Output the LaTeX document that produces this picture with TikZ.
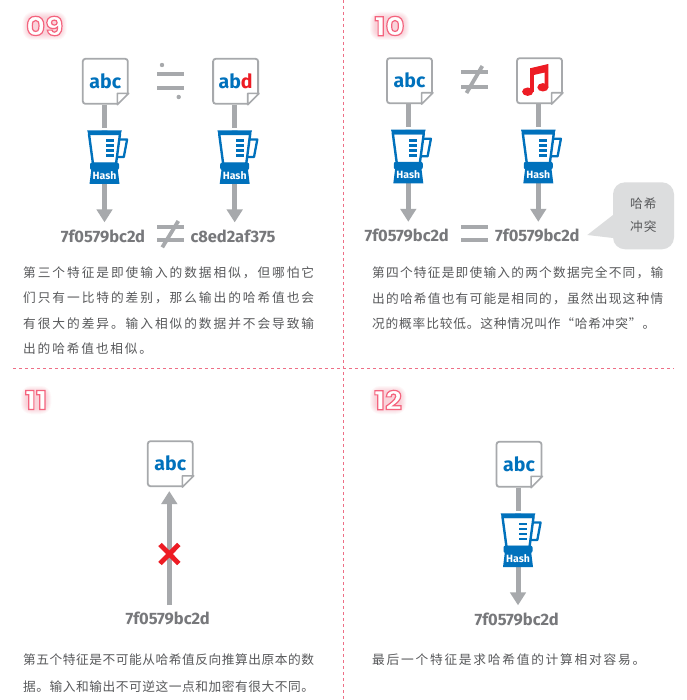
\documentclass[tikz,border=0pt]{standalone}
\usepackage{fontspec}
\setmainfont{Fira Sans}
\newfontfamily\cjkfont{Noto Sans CJK SC}
\newfontfamily\valfont{Fira Sans}[UprightFont=*-Bold]
\newfontfamily\numfont{Poppins}[UprightFont=*-Bold,FakeStretch=1.13]
\usetikzlibrary{arrows.meta}
\definecolor{hashblue}{HTML}{0071BC}
\definecolor{flowgray}{HTML}{A7A9AC}
\definecolor{valgray}{HTML}{77787B}
\definecolor{bodygray}{HTML}{58595B}
\definecolor{alertred}{HTML}{ED1C24}
\definecolor{rulepink}{HTML}{EE6F86}
\definecolor{numpink}{HTML}{F4647E}
\definecolor{bubblegray}{HTML}{DCDDDE}
% one line of body text: the characters are spread evenly over the given width
\makeatletter
\newcommand{\bodyline}[2]{\hbox to #1pt{\cjkfont\fontsize{12.7pt}{14pt}\selectfont
  \@tfor\bodychar:=#2\do{\bodychar\hfil}\unskip}}
\makeatother
\tikzset{
  x=1pt,y=-1pt,
  docbox/.style={draw=flowgray,line width=1.8pt,fill=white,rounded corners=2.6pt,
    minimum width=45pt,minimum height=45pt,inner sep=0pt,
    font=\valfont\fontsize{19.5pt}{22pt}\selectfont,text=hashblue},
  valnode/.style={inner sep=0pt,text=valgray,font=\valfont\fontsize{16.5pt}{18pt}\selectfont},
  bodynode/.style={inner sep=0pt,anchor=west,text=bodygray},
  flow/.style={draw=flowgray,line width=5pt},
  flowarrow/.style={flow,-{Triangle[length=13pt,width=15.5pt]},shorten >=7pt},
  relbar/.style={draw=flowgray,line width=4.2pt},
  rule/.style={draw=rulepink,line width=.9pt,dash pattern=on 3pt off 3pt},
  pics/fold/.style={code={
    \fill[white] (-11.8,0.9) -- (0.9,0.9) -- (0.9,-11.8) -- cycle;
    \draw[flowgray,line width=1.6pt,line join=round,fill=white] (-11.3,0) -- (0,-11.3) -- (-11.3,-11.3) -- cycle;
  }},
  pics/blender/.style={code={
    % jar outline and handle
    \draw[hashblue,line width=2.4pt,fill=white,line join=round] (-15.5,6) -- (-11.5,36) -- (11.5,36) -- (15.5,6) -- cycle;
    \draw[hashblue,line width=2.3pt,line join=round] (14,11.5) -- (22.6,11.5) -- (19.3,29) -- (12,29);
    % lid with knob
    \fill[hashblue] (-3,2.6) arc[start angle=180,end angle=0,radius=3] -- cycle;
    \fill[hashblue] (-17.3,2.4) -- (17.3,2.4) -- (16,7) -- (-16,7) -- cycle;
    % measuring marks
    \foreach \yy in {11.5,16.5,21.5,26.5}
      \fill[hashblue] (1,\yy) rectangle (9,\yy+2.8);
    % collar and base
    \fill[hashblue,rounded corners=2pt] (-14.5,34.5) rectangle (14.5,42);
    \fill[hashblue] (-13,40) -- (13,40) -- (15,56) -- (-15,56) -- cycle;
    \node[inner sep=0pt,text=white,font=\valfont\fontsize{10.5pt}{11pt}\selectfont] at (0,47.5) {Hash};
  }}
}
% section numeral: soft halo of stacked rounded plates, then white text with a pink outline
\newcommand{\secnum}[4]{%
  \foreach \glowgrow in {5,4,3,2,1,0}{
    \fill[numpink,opacity=.05,rounded corners=\glowgrow pt+5pt]
      (#1-#3/2-\glowgrow,#2-9-\glowgrow) rectangle (#1+#3/2+\glowgrow,#2+9+\glowgrow);
  }
  \node[inner sep=0pt,text=white] at (#1,#2) {\fontsize{26pt}{28pt}\numfont
    \special{pdf:code q 2 Tr 1.2 w 0.957 0.392 0.494 RG}#4\special{pdf:code Q}};
}
\begin{document}
\begin{tikzpicture}
\useasboundingbox (0,0) rectangle (686,700);
\fill[white] (0,0) rectangle (686,700);

% panel separators
\coordinate (ruleN) at (343,0);
\coordinate (ruleS) at (343,700);
\coordinate (ruleW) at (13,368);
\coordinate (ruleE) at (674,368);
\draw[rule] (ruleN) -- (ruleS);
\draw[rule] (ruleW) -- (ruleE);

% --- 09 ---
\secnum{44.7}{26}{34}{09}
\node[docbox] (a1) at (105.3,81.3) {abc};
\node[docbox] (a2) at (235.6,81.3) {\textcolor{hashblue}{ab}\textcolor{alertred}{d}};
\pic at (a1.south east) {fold};
\pic at (a2.south east) {fold};
\coordinate (ah1) at (104.5,128);
\coordinate (ah2) at (234.7,128);
\coordinate (ao1) at (104.5,184);
\coordinate (ao2) at (234.7,184);
\node[valnode] (av1) at (103,236) {7f0579bc2d};
\node[valnode] (av2) at (233,236) {c8ed2af375};
\draw[flow] (ah1|-a1.south) -- (ah1);
\draw[flow] (ah2|-a2.south) -- (ah2);
\draw[flowarrow] (ao1) -- (ao1|-av1.north);
\draw[flowarrow] (ao2) -- (ao2|-av2.north);
\pic at (ah1) {blender};
\pic at (ah2) {blender};
\draw[relbar] (157,74) -- (184,74) (157,87.7) -- (184,87.7);
\fill[flowgray] (162,65) circle[radius=2.2] (178.7,97) circle[radius=2.2];
\draw[relbar] (157,226.7) -- (184,226.7) (157,240) -- (184,240);
\draw[draw=flowgray,line width=3.8pt] (178.3,221) -- (162.3,247.3);
\node[bodynode] (at1) at (23,273) {\bodyline{291}{第三个特征是即使输入的数据相似，但哪怕它}};
\node[bodynode] (at2) at (23,298.3) {\bodyline{291}{们只有一比特的差别，那么输出的哈希值也会}};
\node[bodynode] (at3) at (23,323.3) {\bodyline{291}{有很大的差异。输入相似的数据并不会导致输}};
\node[bodynode] (at4) at (23,348.3) {\bodyline{129}{出的哈希值也相似。}};

% --- 10 ---
\secnum{389.5}{26}{29}{10}
\node[docbox] (b1) at (409.5,80.7) {abc};
\node[docbox] (b2) at (539.5,80.7) {};
\pic at (b1.south east) {fold};
\pic at (b2.south east) {fold};
% beamed notes
\fill[alertred] (527.7,91.7) ellipse[x radius=5.6,y radius=4.2]
  (542.9,87.3) ellipse[x radius=5.6,y radius=4.2];
\fill[alertred] (530,92) -- (530,68.3) -- (548.3,64) -- (548.3,87.3) -- (544.6,87.3)
  -- (544.6,72.5) -- (533.8,75) -- (533.8,92) -- cycle;
\coordinate (bh1) at (408.3,127.3);
\coordinate (bh2) at (538.3,127.3);
\coordinate (bo1) at (408.3,183);
\coordinate (bo2) at (538.3,183);
\node[valnode] (bv1) at (406.7,235.5) {7f0579bc2d};
\node[valnode] (bv2) at (537.3,235.5) {7f0579bc2d};
\draw[flow] (bh1|-b1.south) -- (bh1);
\draw[flow] (bh2|-b2.south) -- (bh2);
\draw[flowarrow] (bo1) -- (bo1|-bv1.north);
\draw[flowarrow] (bo2) -- (bo2|-bv2.north);
\pic at (bh1) {blender};
\pic at (bh2) {blender};
\draw[relbar] (461,72) -- (487.7,72) (461,86.7) -- (487.7,86.7);
\draw[draw=flowgray,line width=3.8pt] (482.3,66) -- (466.5,93);
\draw[relbar] (461,227) -- (487.7,227) (461,240) -- (487.7,240);
% speech bubble pointing at the second value
\fill[bubblegray] (613,215) -- (613,194.3) arc[start angle=180,end angle=270,radius=12] -- (662,182.3)
  arc[start angle=270,end angle=360,radius=12] -- (674,237.3) arc[start angle=0,end angle=90,radius=12]
  -- (625,249.3) arc[start angle=90,end angle=180,radius=12] -- (613,238) -- (587.3,235) -- cycle;
\node[bodynode,anchor=center] (bb1) at (643.3,204) {\bodyline{26.6}{哈希}};
\node[bodynode,anchor=center] (bb2) at (643.3,227) {\bodyline{26.6}{冲突}};
\node[bodynode] (bt1) at (372,273) {\bodyline{291}{第四个特征是即使输入的两个数据完全不同，输}};
\node[bodynode] (bt2) at (372,298.3) {\bodyline{291}{出的哈希值也有可能是相同的，虽然出现这种情}};
\node[bodynode] (bt3) at (372,323.3) {\bodyline{283}{况的概率比较低。这种情况叫作“哈希冲突”。}};

% --- 11 ---
\secnum{36}{400}{20}{11}
\node[docbox] (c1) at (170.3,463.7) {abc};
\pic at (c1.south east) {fold};
\node[valnode] (cv1) at (167.7,618.3) {7f0579bc2d};
\coordinate (cs) at (169.3,605);
\draw[flowarrow,shorten >=4pt] (cs) -- (cs|-c1.south);
\draw[alertred,line width=4.8pt] (160,544.5) -- (178.8,563.5) (178.8,544.5) -- (160,563.5);
\node[bodynode] (ct1) at (23,660) {\bodyline{291}{第五个特征是不可能从哈希值反向推算出原本的数}};
\node[bodynode] (ct2) at (23,686.7) {\bodyline{291}{据。输入和输出不可逆这一点和加密有很大不同。}};

% --- 12 ---
\secnum{388}{400}{26}{12}
\node[docbox] (d1) at (519,464.3) {abc};
\pic at (d1.south east) {fold};
\coordinate (dh) at (518,511);
\coordinate (do) at (518,567);
\node[valnode] (dv) at (516.7,619) {7f0579bc2d};
\draw[flow] (dh|-d1.south) -- (dh);
\draw[flowarrow] (do) -- (do|-dv.north);
\pic at (dh) {blender};
\node[bodynode] (dt1) at (372,660) {\bodyline{273}{最后一个特征是求哈希值的计算相对容易。}};
\end{tikzpicture}
\end{document}
